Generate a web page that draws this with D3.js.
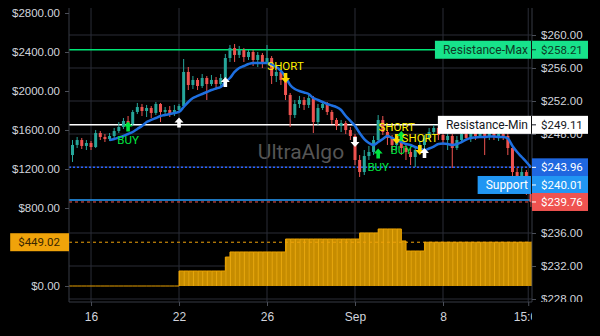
<!DOCTYPE html>
<html>
<head>
<meta charset="utf-8">
<script src="https://cdn.jsdelivr.net/npm/d3@7"></script>
<style>
  body { margin: 0; background: #000; }
  svg { display: block; font-family: Roboto, "Noto Sans", sans-serif; }
</style>
</head>
<body>
<div id="chart"></div>
<script>
// candle data (price, right axis)
var opens = [
  245.45, 246.67, 247.27, 246.55, 246.91, 246.42, 248.12, 247.64, 247.39, 247.76,
  248.36, 248.85, 249.58, 249.21, 250.67, 251.27, 250.79, 251.15, 250.55, 251.64,
  250.67, 250.91, 250.55, 250.91, 251.39, 255.52, 253.94, 254.55, 253.82, 254.79,
  254.06, 254.55, 254.06, 254.79, 257.21, 258.42, 257.58, 258.18, 257.33, 257.94,
  256.97, 257.58, 256.73, 257.21, 255.03, 255.52, 254.55, 252.73, 250.30, 251.64,
  252.12, 251.52, 252.36, 249.45, 251.15, 251.64, 250.67, 249.70, 248.97, 249.33,
  248.48, 247.76, 244.85, 243.39, 245.33, 245.82, 247.27, 249.70, 248.24, 247.52,
  246.67, 247.27, 246.30, 245.82, 245.21, 246.06, 246.67, 247.52, 248.24, 248.73,
  247.88, 247.27, 247.76, 246.30, 247.27, 248.00, 247.52, 248.12, 247.76, 248.36,
  247.76, 248.12, 247.64, 248.00, 247.76, 246.30, 243.39, 242.42, 243.39, 241.45
];
var highs = [
  247.27, 247.64, 247.52, 247.27, 247.15, 248.48, 248.36, 248.00, 248.12, 248.73,
  249.45, 249.94, 250.18, 250.91, 251.76, 251.64, 251.52, 251.39, 251.88, 251.76,
  251.27, 251.39, 251.52, 251.64, 257.09, 256.12, 255.03, 254.79, 255.27, 255.03,
  255.15, 254.91, 255.27, 257.70, 258.79, 258.91, 258.67, 258.42, 258.18, 258.18,
  257.94, 257.82, 258.79, 257.45, 255.76, 255.76, 254.79, 252.97, 252.12, 252.61,
  252.48, 252.73, 252.61, 251.64, 252.00, 251.88, 250.91, 249.94, 249.70, 249.58,
  248.85, 248.00, 245.45, 246.06, 246.55, 247.76, 250.30, 250.18, 248.48, 247.88,
  247.76, 247.52, 246.67, 246.30, 246.55, 247.03, 247.88, 248.73, 249.09, 248.97,
  248.48, 248.12, 248.00, 247.76, 248.48, 248.73, 248.85, 248.85, 248.97, 248.73,
  249.09, 248.48, 248.36, 248.36, 248.12, 246.55, 243.88, 243.88, 243.64, 241.82
];
var lows = [
  244.61, 246.30, 246.18, 246.06, 246.06, 246.30, 247.27, 247.03, 247.15, 247.52,
  248.12, 248.61, 248.85, 248.97, 250.42, 250.18, 250.06, 249.94, 250.30, 249.45,
  250.30, 250.06, 250.18, 250.67, 251.15, 253.33, 253.45, 253.33, 253.58, 252.12,
  253.82, 253.58, 253.82, 254.55, 256.73, 256.73, 257.21, 256.73, 256.97, 256.24,
  256.12, 256.00, 256.48, 254.06, 254.30, 253.94, 252.12, 248.85, 249.94, 251.15,
  250.91, 251.15, 248.12, 249.09, 250.91, 250.30, 249.21, 248.48, 248.24, 248.00,
  247.27, 244.24, 242.79, 243.03, 244.85, 245.45, 247.03, 247.88, 246.67, 245.82,
  246.06, 245.45, 244.85, 244.24, 244.00, 245.82, 246.30, 247.27, 247.88, 247.27,
  246.67, 246.06, 243.88, 246.06, 247.03, 247.27, 247.03, 247.27, 247.52, 245.45,
  247.27, 247.27, 247.15, 247.27, 245.45, 242.79, 241.82, 241.70, 240.61, 239.15
];
var closes = [
  246.67, 247.27, 246.55, 246.91, 246.42, 248.12, 247.64, 247.39, 247.76, 248.36,
  248.85, 249.58, 249.21, 250.67, 251.27, 250.79, 251.15, 250.55, 251.64, 250.67,
  250.91, 250.55, 250.91, 251.39, 255.52, 253.94, 254.55, 253.82, 254.79, 254.06,
  254.55, 254.06, 254.79, 257.21, 258.42, 257.58, 258.18, 257.33, 257.94, 256.97,
  257.58, 256.73, 257.21, 255.03, 255.52, 254.55, 252.73, 250.30, 251.64, 252.12,
  251.52, 252.36, 249.45, 251.15, 251.64, 250.67, 249.70, 248.97, 249.33, 248.48,
  247.76, 244.85, 243.39, 245.33, 245.82, 247.27, 249.70, 248.24, 247.52, 246.67,
  247.27, 246.30, 245.82, 245.21, 246.06, 246.67, 247.52, 248.24, 248.73, 247.88,
  247.27, 247.76, 246.30, 247.27, 248.00, 247.52, 248.12, 247.76, 248.36, 247.76,
  248.12, 247.64, 248.00, 247.76, 246.30, 243.39, 242.42, 243.39, 241.45, 239.76
];

// moving average (blue line)
var movingAvg = [
  null, null, null, null, null, null, null, null,
  247.27, 247.39, 247.58, 247.76, 248.00, 248.24, 248.61, 248.97, 249.45, 249.70,
  249.94, 250.18, 250.30, 250.42, 250.55, 250.67, 251.27, 251.88, 252.36, 252.61,
  252.85, 253.09, 253.33, 253.52, 253.70, 254.30, 254.79, 255.52, 256.00, 256.24,
  256.48, 256.61, 256.61, 256.61, 256.61, 256.42, 256.12, 255.64, 254.91, 253.94,
  253.45, 253.21, 253.03, 252.85, 252.36, 252.12, 251.88, 251.64, 251.45, 251.27,
  250.91, 250.18, 249.58, 248.97, 248.12, 247.39, 246.91, 246.67, 247.03, 247.39,
  247.76, 247.52, 247.21, 247.03, 246.79, 246.67, 246.42, 246.24, 246.06, 246.24,
  246.48, 246.79, 246.85, 246.79, 246.67, 246.79, 247.03, 247.33, 247.52, 247.58,
  247.64, 247.64, 247.70, 247.70, 247.64, 247.64, 247.45, 246.55, 245.82, 245.21,
  244.61, 243.96
];

// stepped profit series (orange, left axis)
var profit = [
  0, 0, 0, 0, 0, 0, 0, 0, 0, 0, 0, 0, 0, 0, 0, 0, 0, 0, 0, 0, 0, 0, 0,
  154, 154, 154, 154, 154, 154, 154, 154, 154, 154,
  297,
  349, 349, 349, 349, 349, 349, 349, 349, 349, 349, 349, 349,
  482, 482, 482, 482, 482, 482, 482, 482, 482, 482, 482, 482, 482, 482, 482, 482,
  544, 544, 544, 544,
  585, 585, 585, 585, 585,
  462,
  359, 359, 359, 359,
  449.02, 449.02, 449.02, 449.02, 449.02, 449.02, 449.02, 449.02, 449.02, 449.02, 449.02, 449.02,
  449.02, 449.02, 449.02, 449.02, 449.02, 449.02, 449.02, 449.02, 449.02, 449.02, 449.02, 449.02
];

var xTickIdx = [4, 23, 42, 61, 80, 98.4];
var xTickLabels = ["16", "22", "26", "Sep", "8", "15:00"];
var leftTicks = [0, 800, 1200, 1600, 2000, 2400, 2800];
var rightTicks = [228, 232, 236, 240, 244, 248, 252, 256, 260];

var signalIdx = [12, 23, 33, 46, 61, 66, 70, 71, 75, 76];
var signalPrice = [248.91, 249.39, 254.30, 254.79, 247.03, 245.64, 247.39, 247.76, 246.06, 245.70];
var signalType = ["buy", "up", "up", "short", "down", "buy", "short", "buy", "short", "up"];

var levelNames = ["Resistance-Max", "Resistance-Min", "", "Support", ""];
var levelValues = [258.21, 249.11, 243.96, 240.01, 239.76];
var profitLast = 449.02;

// styles
var levelStyle = [
  { line: "#00e676", dash: null, w: 1.5, box: "#17e38b", text: "#0d3b26" },
  { line: "#ffffff", dash: null, w: 1.5, box: "#ffffff", text: "#131722" },
  { line: "#2962ff", dash: "2,2", w: 1.5, box: "#1f67e0", text: "#ffffff" },
  { line: "#2196f3", dash: null, w: 1.5, box: "#2196f3", text: "#ffffff" },
  { line: "#ef5350", dash: "3,3", w: 1, box: "#ef5350", text: "#ffffff" }
];
var sigColor = { buy: "#00e640", short: "#ffd600", up: "#ffffff", down: "#ffffff" };

var W = 600, H = 336;
var plot = { left: 69, right: 532, top: 8, bottom: 302 };
var gridColor = "#2a2d36", axisText = "#d1d4dc";

var svg = d3.select("#chart").append("svg").attr("width", W).attr("height", H);
svg.append("rect").attr("width", W).attr("height", H).attr("fill", "#000");

var defs = svg.append("defs");
defs.append("clipPath").attr("id", "plotClip").append("rect")
  .attr("x", plot.left).attr("y", plot.top)
  .attr("width", plot.right - plot.left).attr("height", plot.bottom - plot.top);
defs.append("clipPath").attr("id", "xClip").append("rect")
  .attr("x", 0).attr("y", plot.bottom).attr("width", plot.right).attr("height", H - plot.bottom);
defs.append("clipPath").attr("id", "rClip").append("rect")
  .attr("x", plot.right).attr("y", 0).attr("width", W - plot.right).attr("height", plot.bottom);

var x = d3.scaleLinear().domain([0, closes.length - 1]).range([72.5, 531]);
var step = x(1) - x(0);
var yR = d3.scaleLinear().domain([228, 260]).range([299, 35]);
var yL = d3.scaleLinear().domain([0, 2800]).range([286, 13]);

// price label positions, stacked bottom-up so boxes don't overlap
var boxH = 18, gap = 17;
var order = levelValues.map(function(v, i) { return i; })
  .sort(function(a, b) { return levelValues[a] - levelValues[b]; });
var labelY = [];
var prev = Infinity;
order.forEach(function(i) {
  var yy = Math.min(yR(levelValues[i]), prev - gap);
  labelY[i] = yy;
  prev = yy;
});

// watermark
svg.append("text").attr("x", 301).attr("y", 152).attr("dy", "0.35em")
  .attr("text-anchor", "middle").attr("font-size", 21).attr("fill", "#555")
  .text("UltraAlgo");

// grid
var grid = svg.append("g");
grid.selectAll(".hg").data(rightTicks).enter().append("line")
  .attr("x1", plot.left).attr("x2", plot.right)
  .attr("y1", function(d) { return yR(d); }).attr("y2", function(d) { return yR(d); })
  .attr("stroke", gridColor);
grid.selectAll(".vg").data(xTickIdx).enter().append("line")
  .attr("x1", function(d) { return x(d); }).attr("x2", function(d) { return x(d); })
  .attr("y1", plot.top).attr("y2", plot.bottom)
  .attr("stroke", gridColor);

var inner = svg.append("g").attr("clip-path", "url(#plotClip)");

// orange profit bars
var pBars = inner.append("g");
profit.forEach(function(v, i) {
  if (v <= 0) return;
  pBars.append("rect")
    .attr("x", x(i)).attr("width", step + 0.3)
    .attr("y", yL(v)).attr("height", yL(0) - yL(v))
    .attr("fill", "#c68c00");
  pBars.append("rect")
    .attr("x", x(i)).attr("width", 1)
    .attr("y", yL(v)).attr("height", yL(0) - yL(v))
    .attr("fill", "#e8a80e");
});
var pPts = profit.map(function(v, i) { return [x(i), v]; });
pPts.unshift([plot.left, profit[0]]);
pPts.push([plot.right, profit[profit.length - 1]]);
inner.append("path")
  .attr("d", d3.line().x(function(d) { return d[0]; }).y(function(d) { return yL(d[1]); })
    .curve(d3.curveStepAfter)(pPts))
  .attr("fill", "none").attr("stroke", "#e8a000").attr("stroke-width", 1);

// level lines
inner.append("line")
  .attr("x1", plot.left).attr("x2", plot.right)
  .attr("y1", yL(profitLast)).attr("y2", yL(profitLast))
  .attr("stroke", "#f0a30a").attr("stroke-dasharray", "3,3");
levelValues.forEach(function(v, i) {
  var s = levelStyle[i];
  inner.append("line")
    .attr("x1", plot.left).attr("x2", plot.right)
    .attr("y1", yR(v)).attr("y2", yR(v))
    .attr("stroke", s.line).attr("stroke-width", s.w)
    .attr("stroke-dasharray", s.dash);
});

// candles
var candles = inner.selectAll(".candle").data(closes).enter().append("g");
candles.append("line")
  .attr("x1", function(d, i) { return x(i); }).attr("x2", function(d, i) { return x(i); })
  .attr("y1", function(d, i) { return yR(highs[i]); })
  .attr("y2", function(d, i) { return yR(lows[i]); })
  .attr("stroke", function(d, i) { return d >= opens[i] ? "#26a69a" : "#ef5350"; });
candles.append("rect")
  .attr("x", function(d, i) { return x(i) - 1.5; }).attr("width", 3)
  .attr("y", function(d, i) { return yR(Math.max(d, opens[i])); })
  .attr("height", function(d, i) { return Math.max(1, Math.abs(yR(d) - yR(opens[i]))); })
  .attr("fill", function(d, i) { return d >= opens[i] ? "#26a69a" : "#ef5350"; });

// moving average
inner.append("path")
  .datum(movingAvg)
  .attr("d", d3.line()
    .defined(function(d) { return d !== null; })
    .x(function(d, i) { return x(i); })
    .y(function(d) { return yR(d); })
    .curve(d3.curveMonotoneX))
  .attr("fill", "none").attr("stroke", "#1e6fe0").attr("stroke-width", 2.5);

// signals
var upArrow = "M0,-5L4.5,0L1.8,0L1.8,5L-1.8,5L-1.8,0L-4.5,0Z";
var downArrow = "M0,5L4.5,0L1.8,0L1.8,-5L-1.8,-5L-1.8,0L-4.5,0Z";
signalIdx.forEach(function(idx, k) {
  var t = signalType[k];
  var cx = x(idx), cy = yR(signalPrice[k]);
  inner.append("path")
    .attr("d", (t === "buy" || t === "up") ? upArrow : downArrow)
    .attr("transform", "translate(" + cx + "," + cy + ")")
    .attr("fill", sigColor[t]);
  if (t === "buy") {
    inner.append("text").attr("x", cx).attr("y", cy + 13.5).attr("dy", "0.35em")
      .attr("text-anchor", "middle").attr("font-size", 11.5).attr("fill", "#00e640")
      .text("BUY");
  } else if (t === "short") {
    inner.append("text").attr("x", cx).attr("y", cy - 12).attr("dy", "0.35em")
      .attr("text-anchor", "middle").attr("font-size", 11.5).attr("fill", "#ffee00")
      .text("SHORT");
  }
});

// borders
[plot.left, plot.right].forEach(function(px) {
  svg.append("line").attr("x1", px).attr("x2", px)
    .attr("y1", plot.top).attr("y2", plot.bottom).attr("stroke", "#363a45");
});
svg.append("line").attr("x1", plot.left).attr("x2", plot.right)
  .attr("y1", plot.bottom).attr("y2", plot.bottom).attr("stroke", "#363a45");

function styleAxis(g) {
  g.select(".domain").remove();
  g.selectAll(".tick line").attr("stroke", "#4a4e58");
  g.selectAll(".tick text").attr("fill", axisText).attr("font-size", 11.5);
}

// left axis
svg.append("g").attr("transform", "translate(" + plot.left + ",0)")
  .call(d3.axisLeft(yL).tickValues(leftTicks).tickSize(4).tickPadding(5)
    .tickFormat(function(d) { return "$" + d.toFixed(2); }))
  .call(styleAxis);

// right axis (tick texts hidden where a price label sits on top of them)
svg.append("g").attr("clip-path", "url(#rClip)")
  .append("g").attr("transform", "translate(" + plot.right + ",0)")
  .call(d3.axisRight(yR).tickValues(rightTicks).tickSize(4).tickPadding(5)
    .tickFormat(function(d) {
      var covered = labelY.some(function(ly) { return Math.abs(ly - yR(d)) < 8; });
      return covered ? "" : "$" + d.toFixed(2);
    }))
  .call(styleAxis);

// bottom axis
svg.append("g").attr("clip-path", "url(#xClip)")
  .append("g").attr("transform", "translate(0," + plot.bottom + ")")
  .call(d3.axisBottom(x).tickValues(xTickIdx).tickSize(4).tickPadding(6)
    .tickFormat(function(d, i) { return xTickLabels[i]; }))
  .call(styleAxis)
  .selectAll(".tick text").attr("font-size", 12);

// right price labels
var labels = svg.append("g");
levelValues.forEach(function(v, i) {
  var s = levelStyle[i], yy = labelY[i];
  if (levelNames[i]) {
    var t = labels.append("text").attr("y", yy).attr("dy", "0.35em")
      .attr("font-size", 12).attr("fill", s.text).text(levelNames[i]);
    var tw = t.node().getComputedTextLength();
    var bx = plot.right - 4 - tw - 8;
    labels.insert("rect", "text").attr("x", bx).attr("y", yy - boxH / 2)
      .attr("width", plot.right - bx).attr("height", boxH).attr("fill", s.box);
    t.attr("x", bx + 8);
    labels.append("line").attr("x1", plot.right - 0.5).attr("x2", plot.right - 0.5)
      .attr("y1", yy - boxH / 2).attr("y2", yy + boxH / 2).attr("stroke", "#111");
  }
  labels.append("rect").attr("x", plot.right).attr("y", yy - boxH / 2)
    .attr("width", 56).attr("height", boxH).attr("fill", s.box);
  labels.append("line").attr("x1", plot.right).attr("x2", plot.right + 4)
    .attr("y1", yy).attr("y2", yy).attr("stroke", s.text);
  labels.append("text").attr("x", plot.right + 9).attr("y", yy).attr("dy", "0.35em")
    .attr("font-size", 11.5).attr("fill", s.text).text("$" + v.toFixed(2));
});

// left profit label
var py = yL(profitLast);
var pt = labels.append("text").attr("x", plot.left - 9).attr("y", py).attr("dy", "0.35em")
  .attr("text-anchor", "end").attr("font-size", 11.5).attr("fill", "#3a2700")
  .text("$" + profitLast.toFixed(2));
var pw = pt.node().getComputedTextLength();
labels.insert("rect", "text").attr("x", plot.left - 9 - pw - 8).attr("y", py - boxH / 2)
  .attr("width", pw + 17).attr("height", boxH).attr("fill", "#f0a30a");
</script>
</body>
</html>
